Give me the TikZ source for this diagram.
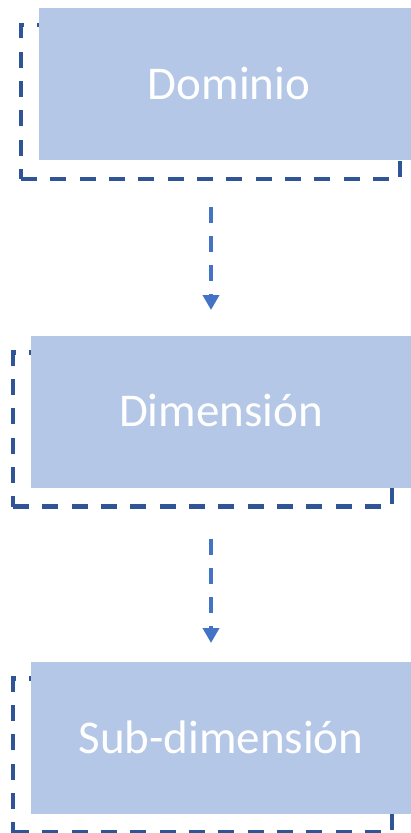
\documentclass[tikz,border=0pt]{standalone}
\usepackage{fontspec}
\setmainfont{Carlito}
\usetikzlibrary{arrows.meta}
\definecolor{boxfill}{HTML}{B4C7E7}
\definecolor{framec}{HTML}{2F5597}
\definecolor{arrowc}{HTML}{4472C4}
\tikzset{
  frame/.style={draw=framec, line width=4.5pt, dash pattern=on 16pt off 13.33pt, dash phase=0pt,
    minimum width=379pt, minimum height=154pt, inner sep=0pt, outer sep=0pt},
  boxnode/.style={fill=boxfill, minimum width=380pt, minimum height=152pt, inner sep=0pt, outer sep=0pt,
    text=white, font=\fontsize{47}{56}\selectfont, text height=30pt, text depth=0pt},
  arr/.style={arrowc, line width=3.6pt, dash pattern=on 16pt off 13pt,
    -{Triangle[length=15pt,width=16pt]}}
}
\begin{document}
\begin{tikzpicture}[x=1pt,y=-1pt]
\useasboundingbox (0,0) rectangle (411,833);
% frames
\node[frame] (f1) at (210.5,102) {};
\node[frame] (f2) at (202.5,429.5) {};
\node[frame] (f3) at (202.5,755.5) {};
% boxes
\node[boxnode] (b1) at (229,84) {Dominio};
\node[boxnode] (b2) at (221,411.5) {Dimensión};
\node[boxnode] (b3) at (221,738) {Sub-dimensión};
% arrows
\coordinate (a1s) at (211,207);
\coordinate (a1e) at (211,310);
\coordinate (a2s) at (211,539);
\coordinate (a2e) at (211,643);
\draw[arr] (a1s) -- (a1e);
\draw[arr] (a2s) -- (a2e);
\end{tikzpicture}
\end{document}
